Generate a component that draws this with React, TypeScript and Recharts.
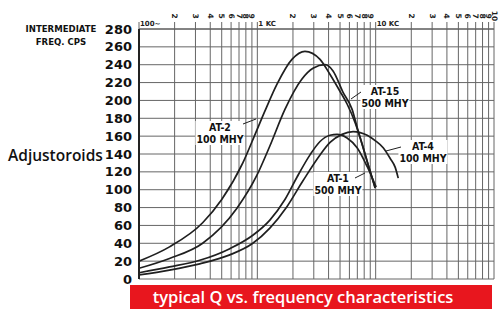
import React from "react";
import { LineChart, Line, XAxis, YAxis, CartesianGrid } from "recharts";

// log-spaced frequency grid (cps)
const freqTicks = [
  100, 200, 300, 400, 500, 600, 700, 800, 900,
  1000, 2000, 3000, 4000, 5000, 6000, 7000, 8000, 9000,
  10000, 20000, 30000, 40000, 50000, 60000, 70000, 80000, 90000,
  100000,
];
const decadeLabels: Record<number, string> = { 100: "100~", 1000: "1 KC", 10000: "10 KC" };
const qTicks = [0, 20, 40, 60, 80, 100, 120, 140, 160, 180, 200, 220, 240, 260, 280];

const at2Freq = [100, 181, 345, 500, 754, 971, 1158, 1463, 1961, 2526, 3386, 4116, 5003, 5734, 6704, 7685, 8639, 9903];
const at2Q = [20, 36, 63, 89, 130, 164, 188, 218, 246, 255, 246, 229, 210, 196, 175, 151, 128, 102];

const at15Freq = [100, 181, 345, 670, 990, 1276, 1711, 2383, 2953, 3733, 4363, 5303, 6322, 6970, 7685, 8639, 9903];
const at15Q = [12, 23, 40, 79, 116, 149, 190, 224, 236, 240, 233, 209, 190, 170, 151, 128, 102];

const at1Freq = [100, 181, 326, 585, 916, 1276, 1711, 2161, 2786, 3386, 4116, 4718, 5734, 6970, 8472, 10097];
const at1Q = [7, 13.5, 21, 34, 49, 66, 89, 114, 139, 154, 161, 162, 158, 147, 126, 103];

const at4Freq = [100, 181, 326, 585, 916, 1276, 1778, 2430, 3386, 4116, 5201, 6447, 7390, 8472, 9903, 11580, 13270, 14630, 15510];
const at4Q = [4.5, 10, 17, 27, 40, 57, 81, 110, 139, 153, 162, 165, 164, 161, 155, 147, 135, 125, 113];

const toRows = (f: number[], q: number[]) => f.map((v, i) => ({ f: v, q: q[i] }));

const curves = [
  { name: "AT-2", rows: toRows(at2Freq, at2Q) },
  { name: "AT-15", rows: toRows(at15Freq, at15Q) },
  { name: "AT-1", rows: toRows(at1Freq, at1Q) },
  { name: "AT-4", rows: toRows(at4Freq, at4Q) },
];

const ink = "#1f1f1f";
const bold = "'DejaVu Sans', sans-serif";

const TopTick = (props: any) => {
  const { x, payload } = props;
  const v = payload.value as number;
  if (decadeLabels[v]) {
    return (
      <text x={x + 1} y={26} fontSize={7} fontWeight={700} fill={ink} fontFamily={bold}>
        {decadeLabels[v]}
      </text>
    );
  }
  const mag = Math.pow(10, Math.floor(Math.log10(v) + 1e-9));
  const digit = v === 100000 ? "10" : String(Math.round(v / mag));
  return (
    <text
      transform={`translate(${x},${16}) rotate(90)`}
      textAnchor="middle"
      dominantBaseline="central"
      fontSize={7.5}
      fontWeight={700}
      fill={ink}
      fontFamily={bold}
    >
      {digit}
    </text>
  );
};

const tag = (left: number, top: number, a: string, b: string) => (
  <div
    style={{
      position: "absolute",
      left,
      top,
      transform: "translateX(-50%)",
      background: "#fff",
      fontFamily: "'DejaVu Sans Condensed', 'DejaVu Sans', sans-serif",
      fontWeight: 700,
      fontSize: 10.5,
      lineHeight: "12px",
      color: "#111",
      textAlign: "center",
      whiteSpace: "nowrap",
      padding: "0 1px",
    }}
  >
    <div>{a}</div>
    <div>{b}</div>
  </div>
);

export default function App() {
  return (
    <div style={{ position: "absolute", left: 0, top: 0, width: 501, height: 309, background: "#fff", overflow: "hidden" }}>
      <LineChart width={501} height={309} margin={{ top: 7, right: 7, bottom: 30, left: 0 }}>
        <CartesianGrid stroke="#666" strokeWidth={1} />
        <XAxis
          dataKey="f"
          type="number"
          scale="log"
          domain={[100, 100000]}
          ticks={freqTicks}
          orientation="top"
          height={22}
          allowDataOverflow
          axisLine={{ stroke: "#555" }}
          tickLine={{ stroke: "#666" }}
          tickSize={7}
          tick={(p: any) => <TopTick {...p} />}
          interval={0}
        />
        <YAxis
          dataKey="q"
          type="number"
          domain={[0, 280]}
          ticks={qTicks}
          width={139}
          interval={0}
          tickLine={false}
          tickMargin={1}
          axisLine={{ stroke: "#222", strokeWidth: 2 }}
          tick={{ fontSize: 13, fontWeight: 700, fill: "#111", fontFamily: bold }}
        />
        {curves.map((c) => (
          <Line
            key={c.name}
            data={c.rows}
            dataKey="q"
            type="monotone"
            stroke={ink}
            strokeWidth={1.7}
            dot={false}
            isAnimationActive={false}
          />
        ))}
      </LineChart>

      <div
        style={{
          position: "absolute",
          left: 18,
          top: 22,
          fontFamily: "'DejaVu Sans Condensed', sans-serif",
          fontWeight: 700,
          fontSize: 9.5,
          lineHeight: "13px",
          color: "#111",
          textAlign: "center",
          width: 86,
        }}
      >
        <div>INTERMEDIATE</div>
        <div>FREQ. CPS</div>
      </div>

      <div
        style={{
          position: "absolute",
          left: 8,
          top: 144,
          fontFamily: "'Open Sans', sans-serif",
          fontWeight: 600,
          fontSize: 15.5,
          color: "#111",
        }}
      >
        Adjustoroids
      </div>

      {tag(220, 121, "AT-2", "100 MHY")}
      {tag(385, 85, "AT-15", "500 MHY")}
      {tag(423, 140, "AT-4", "100 MHY")}
      {tag(338, 172, "AT-1", "500 MHY")}

      <svg width={501} height={309} style={{ position: "absolute", left: 0, top: 0, pointerEvents: "none" }}>
        <g stroke={ink} strokeWidth={1}>
          <line x1={243} y1={124} x2={256} y2={119} />
          <line x1={361} y1={92} x2={351} y2={99} />
          <line x1={401} y1={147} x2={386} y2={151} />
          <line x1={355} y1={178} x2={365} y2={173} />
        </g>
      </svg>

      <div
        style={{
          position: "absolute",
          left: 130,
          top: 285,
          width: 362,
          height: 24,
          background: "#e8161e",
          color: "#fff",
          fontFamily: "'Open Sans', sans-serif",
          fontWeight: 600,
          fontSize: 16.5,
          lineHeight: "24px",
          textAlign: "center",
          boxSizing: "border-box",
          paddingRight: 16,
          whiteSpace: "nowrap",
        }}
      >
        typical Q vs. frequency characteristics
      </div>
    </div>
  );
}
